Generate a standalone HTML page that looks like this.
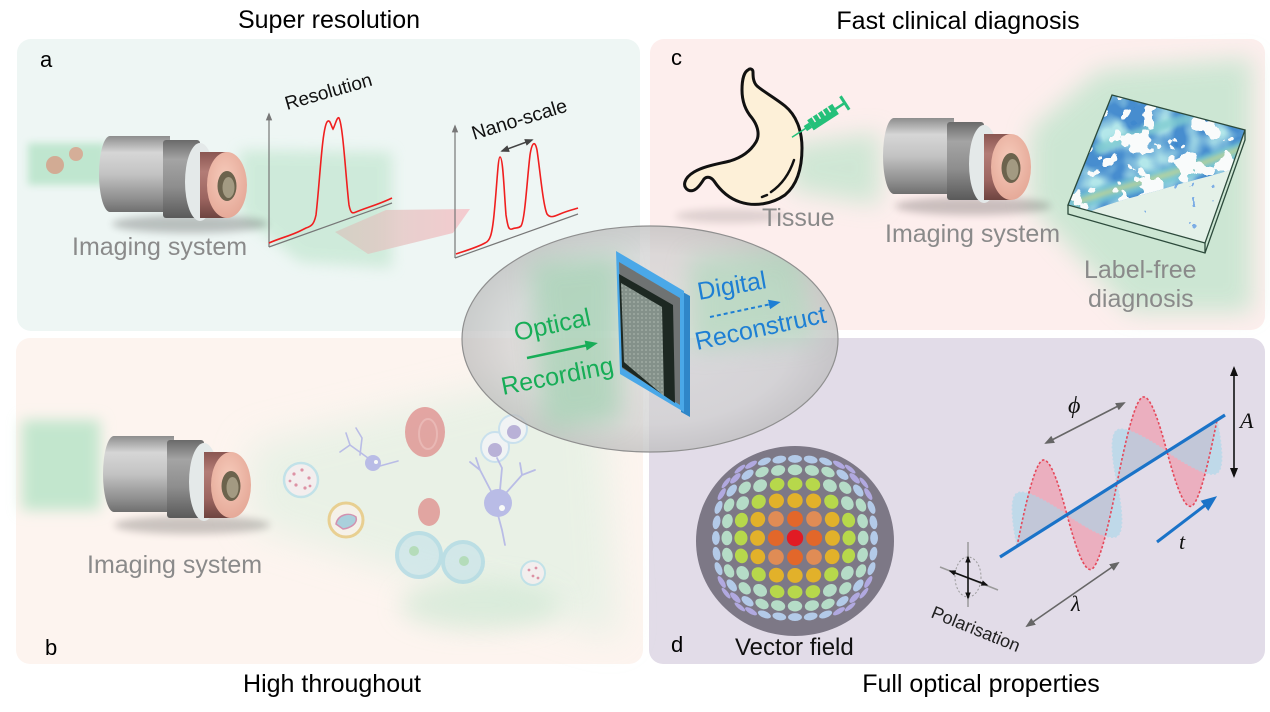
<!DOCTYPE html>
<html><head><meta charset="utf-8"><title>Diagram</title>
<style>
html,body{margin:0;padding:0;background:#fff;width:1270px;height:712px;overflow:hidden}
svg{display:block}
</style></head><body>
<svg id="root" width="1270" height="712" viewBox="0 0 1270 712" xmlns="http://www.w3.org/2000/svg" font-family="'Liberation Sans', Arial, sans-serif">
<defs>
<filter id="b2" x="-50%" y="-50%" width="200%" height="200%"><feGaussianBlur stdDeviation="2"/></filter>
<filter id="b4" x="-50%" y="-50%" width="200%" height="200%"><feGaussianBlur stdDeviation="4"/></filter>
<filter id="b7" x="-50%" y="-50%" width="200%" height="200%"><feGaussianBlur stdDeviation="7"/></filter>
<filter id="b12" x="-50%" y="-50%" width="200%" height="200%"><feGaussianBlur stdDeviation="12"/></filter>
<filter id="b18" x="-50%" y="-50%" width="200%" height="200%"><feGaussianBlur stdDeviation="18"/></filter>
<filter id="fHoles" filterUnits="userSpaceOnUse" x="1060" y="88" width="195" height="175">
<feTurbulence type="fractalNoise" baseFrequency="0.045" numOctaves="3" seed="7" result="n"/>
<feColorMatrix in="n" type="matrix" values="0 0 0 0 0.95  0 0 0 0 0.97  0 0 0 0 0.96  3 0 0 0 -1.2"/>
<feComponentTransfer><feFuncA type="discrete" tableValues="0 1"/></feComponentTransfer>
</filter>
<filter id="fCyan" filterUnits="userSpaceOnUse" x="1060" y="88" width="195" height="175">
<feTurbulence type="fractalNoise" baseFrequency="0.04" numOctaves="2" seed="3" result="n"/>
<feColorMatrix in="n" type="matrix" values="0 0 0 0 0.45  0 0 0 0 0.80  0 0 0 0 0.82  2.5 0 0 0 -0.9"/>
</filter>
<filter id="fSpecks" filterUnits="userSpaceOnUse" x="1060" y="88" width="195" height="175">
<feTurbulence type="fractalNoise" baseFrequency="0.1" numOctaves="2" seed="11" result="n"/>
<feColorMatrix in="n" type="matrix" values="0 0 0 0 0.2  0 0 0 0 0.42  0 0 0 0 0.78  8 0 0 0 -5.6"/>
<feComponentTransfer><feFuncA type="discrete" tableValues="0 1"/></feComponentTransfer>
</filter>
<linearGradient id="gBody" x1="0" y1="0" x2="0" y2="1">
<stop offset="0" stop-color="#8d8d8d"/><stop offset=".22" stop-color="#d6d6d6"/><stop offset=".5" stop-color="#c3c3c3"/><stop offset=".85" stop-color="#8b8b8b"/><stop offset="1" stop-color="#6f6f6f"/>
</linearGradient>
<linearGradient id="gCap" x1="0" y1="0" x2="0" y2="1">
<stop offset="0" stop-color="#4e4e4e"/><stop offset=".3" stop-color="#8f8f8f"/><stop offset=".6" stop-color="#6c6c6c"/><stop offset="1" stop-color="#404040"/>
</linearGradient>
<linearGradient id="gSec" x1="0" y1="0" x2="0" y2="1">
<stop offset="0" stop-color="#6a6a6a"/><stop offset=".25" stop-color="#a4a4a4"/><stop offset=".6" stop-color="#8e8e8e"/><stop offset="1" stop-color="#5a5a5a"/>
</linearGradient>
<linearGradient id="gPink" x1="0" y1="0" x2="0" y2="1">
<stop offset="0" stop-color="#8a5651"/><stop offset=".3" stop-color="#b37c76"/><stop offset=".7" stop-color="#9c6560"/><stop offset="1" stop-color="#6e4440"/>
</linearGradient>
<radialGradient id="gFace" cx=".45" cy=".4" r=".7">
<stop offset="0" stop-color="#f6cbbb"/><stop offset="1" stop-color="#e3a493"/>
</radialGradient>
<radialGradient id="gEll" cx=".5" cy=".5" r=".5">
<stop offset="0" stop-color="#d9d9d9"/><stop offset=".75" stop-color="#cfcfcf"/><stop offset="1" stop-color="#bcbcbc"/>
</radialGradient>
<linearGradient id="gArrow" x1="0" y1="0" x2="1" y2="0">
<stop offset="0" stop-color="#d7c6bd" stop-opacity=".7"/><stop offset="1" stop-color="#f5c6cb" stop-opacity=".9"/>
</linearGradient>
<pattern id="pScreen" width="4" height="4" patternUnits="userSpaceOnUse"><rect width="4" height="4" fill="#84918a"/><circle cx="2" cy="2" r="1" fill="#9eaaa2"/></pattern>
<marker id="mg" viewBox="0 0 10 8" refX="8" refY="4" markerWidth="10" markerHeight="8" markerUnits="userSpaceOnUse" orient="auto-start-reverse"><path d="M0,0 L10,4 L0,8 Z" fill="#666"/></marker>
<marker id="mk" viewBox="0 0 10 8" refX="8" refY="4" markerWidth="10" markerHeight="8" markerUnits="userSpaceOnUse" orient="auto-start-reverse"><path d="M0,0 L10,4 L0,8 Z" fill="#111"/></marker>
<marker id="mks" viewBox="0 0 10 8" refX="8" refY="4" markerWidth="7" markerHeight="6" markerUnits="userSpaceOnUse" orient="auto-start-reverse"><path d="M0,0 L10,4 L0,8 Z" fill="#111"/></marker>
<marker id="mb" viewBox="0 0 10 8" refX="6" refY="4" markerWidth="16" markerHeight="13" markerUnits="userSpaceOnUse" orient="auto"><path d="M0,0 L10,4 L0,8 Z" fill="#1a73c8"/></marker>
<marker id="mbs" viewBox="0 0 10 8" refX="6" refY="4" markerWidth="12" markerHeight="10" markerUnits="userSpaceOnUse" orient="auto"><path d="M0,0 L10,4 L0,8 Z" fill="#1e7fd4"/></marker>
<marker id="mgr" viewBox="0 0 10 8" refX="6" refY="4" markerWidth="13" markerHeight="10" markerUnits="userSpaceOnUse" orient="auto"><path d="M0,0 L10,4 L0,8 Z" fill="#17ad57"/></marker>
<marker id="md" viewBox="0 0 10 8" refX="8" refY="4" markerWidth="9" markerHeight="7" markerUnits="userSpaceOnUse" orient="auto-start-reverse"><path d="M0,0 L10,4 L0,8 Z" fill="#444"/></marker>
<marker id="max" viewBox="0 0 10 8" refX="8" refY="4" markerWidth="8" markerHeight="7" markerUnits="userSpaceOnUse" orient="auto"><path d="M0,0 L10,4 L0,8 Z" fill="#777"/></marker>
<clipPath id="cEll"><ellipse cx="650" cy="339" rx="188" ry="113"/></clipPath>
<clipPath id="cBox"><polygon points="1112,95 1245,130 1205,243 1068,205"/></clipPath>
<clipPath id="cBlue"><path d="M1112,95 L1245,130 L1243,165 C1220,175 1190,180 1160,190 C1130,198 1100,205 1072,220 L1068,205 Z"/></clipPath>
<g id="lens">
<path d="M-112,-40 H-106 V12 H-112 A8,26 0 0 1 -112,-40 Z" fill="url(#gCap)"/>
<path d="M-117,-49 H-57 V27 H-117 A11,38 0 0 1 -117,-49 Z" fill="url(#gBody)"/>
<rect x="-64" y="-45" width="37" height="78" rx="3" fill="url(#gSec)"/>
<ellipse cx="-27" cy="-3" rx="15" ry="39" fill="#e4e9e9"/>
<rect x="-27" y="-33" width="27" height="66" fill="url(#gPink)"/>
<ellipse cx="0" cy="0" rx="20" ry="33" fill="url(#gFace)"/>
<ellipse cx="0" cy="1" rx="9.5" ry="15" fill="#6c634d"/>
<ellipse cx="1.5" cy="2.5" rx="6" ry="10.5" fill="#a39a82"/>
</g>
</defs>

<!-- Titles -->
<text x="329" y="28" font-size="25" text-anchor="middle" fill="#000">Super resolution</text>
<text x="958" y="29" font-size="25" text-anchor="middle" fill="#000">Fast clinical diagnosis</text>
<text x="332" y="692" font-size="25" text-anchor="middle" fill="#000">High throughout</text>
<text x="981" y="692" font-size="25" text-anchor="middle" fill="#000">Full optical properties</text>

<!-- Panels -->
<rect x="17" y="39" width="623" height="292" rx="14" fill="#eef6f4"/>
<rect x="650" y="39" width="615" height="291" rx="14" fill="#fdeeed"/>
<rect x="16" y="338" width="627" height="326" rx="14" fill="#fdf4ef"/>
<rect x="649" y="338" width="616" height="326" rx="14" fill="#e2dce8"/>

<!-- ===== Panel a ===== -->
<rect x="28" y="143" width="78" height="42" fill="#bfe6cf" filter="url(#b4)"/>
<polygon points="240,150 392,152 392,268 300,262 240,215" fill="#c7e8d4" opacity=".8" filter="url(#b7)"/>
<circle cx="55" cy="165" r="9" fill="#d4a48d" opacity=".9"/>
<circle cx="76" cy="154" r="7" fill="#d7a791" opacity=".9"/>
<ellipse cx="190" cy="224" rx="78" ry="9" fill="#000" opacity=".22" filter="url(#b4)"/>
<use href="#lens" transform="translate(227,185)"/>
<text x="72" y="255" font-size="25" fill="#8a8a8a">Imaging system</text>

<!-- graph 1 -->
<line x1="269" y1="247" x2="269" y2="114" stroke="#777" stroke-width="1.2" marker-end="url(#max)"/>
<line x1="269" y1="247" x2="392" y2="203" stroke="#777" stroke-width="1.2"/>
<path d="M269,243 C280,238 290,236 300,231 L306,228 C312,226 314,224 316,215 C320,180 322,130 327,122 C330,118 331,126 333,129 C335,126 337,116 339,118 C343,125 346,180 349,205 C351,215 353,213 356,212 C365,208 380,204 392,198" fill="none" stroke="#f01f1f" stroke-width="1.6"/>
<text transform="translate(287,110) rotate(-16)" font-size="19" fill="#111">Resolution</text>

<!-- pink arrow -->
<polygon points="335,232 386,210 470,209 453,233 368,254" fill="url(#gArrow)"/>

<!-- graph 2 -->
<line x1="455" y1="258" x2="455" y2="126" stroke="#777" stroke-width="1.2" marker-end="url(#max)"/>
<line x1="455" y1="258" x2="578" y2="214" stroke="#777" stroke-width="1.2"/>
<path d="M456,254 C468,250 478,247 485,243 C490,241 492,235 494,215 C497,185 498,157 500,157 C503,157 504,190 506,215 C508,228 509,230 512,229 C516,227 518,229 521,226 C525,220 527,180 530,155 C532,142 535,140 537,150 C540,170 543,205 547,214 C550,218 553,217 560,214 C567,211 572,210 578,208" fill="none" stroke="#f01f1f" stroke-width="1.6"/>
<line x1="502" y1="151" x2="532" y2="140" stroke="#444" stroke-width="1.5" marker-start="url(#md)" marker-end="url(#md)"/>
<text transform="translate(474,140) rotate(-17)" font-size="19.5" fill="#111">Nano-scale</text>
<text x="40" y="67" font-size="22" fill="#000">a</text>

<!-- ===== Panel c ===== -->
<polygon points="790,145 880,132 880,205 790,190" fill="#c4e5cf" opacity=".8" filter="url(#b12)"/>
<polygon points="1030,130 1100,70 1252,58 1252,312 1130,312 1030,205" fill="#c4e5cf" opacity=".85" filter="url(#b12)"/>
<ellipse cx="730" cy="216" rx="55" ry="7" fill="#000" opacity=".12" filter="url(#b4)"/>
<path d="M748,70 C744,72 742,80 742,90 C742,100 745,110 752,118 C758,126 760,135 756,142 C750,152 740,158 730,161 C718,164 704,166 694,172 C684,178 682,186 688,190 C694,193 699,187 704,179 C707,176 711,177 714,181 C720,190 728,198 740,202 C755,207 772,204 785,195 C797,185 802,168 802,148 C802,130 796,115 785,106 C775,98 764,92 757,86 C753,82 753,76 753,72 C753,69 750,68 748,70 Z" fill="#fdf0d8" stroke="#111" stroke-width="3" stroke-linejoin="round"/>
<path d="M771,192 Q787,181 794,160" fill="none" stroke="#111" stroke-width="2.5" stroke-linecap="round"/>
<path d="M762,197 L767,195" fill="none" stroke="#111" stroke-width="2.5" stroke-linecap="round"/>
<g transform="translate(797,134) rotate(-33)" fill="#25c07a" stroke="#25c07a">
<line x1="-6" y1="0" x2="12" y2="0" stroke-width="1.5"/>
<rect x="10" y="-3" width="6" height="6" stroke="none"/>
<rect x="16" y="-6" width="30" height="12" stroke="none"/>
<line x1="22" y1="-6" x2="22" y2="0" stroke="#fdeeed" stroke-width="1.5"/>
<line x1="28" y1="-6" x2="28" y2="0" stroke="#fdeeed" stroke-width="1.5"/>
<line x1="34" y1="-6" x2="34" y2="0" stroke="#fdeeed" stroke-width="1.5"/>
<line x1="40" y1="-6" x2="40" y2="0" stroke="#fdeeed" stroke-width="1.5"/>
<line x1="46" y1="0" x2="57" y2="0" stroke-width="2.5"/>
<line x1="57" y1="-8" x2="57" y2="8" stroke-width="3"/>
</g>
<text x="762" y="226" font-size="25" fill="#8a8a8a">Tissue</text>
<ellipse cx="973" cy="206" rx="78" ry="9" fill="#000" opacity=".2" filter="url(#b4)"/>
<use href="#lens" transform="translate(1011,167)"/>
<text x="885" y="242" font-size="25" fill="#8a8a8a">Imaging system</text>

<!-- heatmap box -->
<g clip-path="url(#cBox)">
<polygon points="1112,95 1245,130 1205,243 1068,205" fill="#e4f1e8"/>
<rect x="1060" y="88" width="195" height="175" filter="url(#fSpecks)"/>
<path d="M1112,95 L1245,130 L1243,165 C1220,175 1190,180 1160,190 C1130,198 1100,205 1072,220 L1068,205 Z" fill="#3a84cc" opacity=".92"/>
<g clip-path="url(#cBlue)">
<rect x="1060" y="88" width="195" height="175" filter="url(#fCyan)"/>
<path d="M1070,205 C1110,190 1160,180 1200,165 C1220,158 1235,152 1245,148" fill="none" stroke="#78c8d4" stroke-width="16" opacity=".85" filter="url(#b2)"/>
<path d="M1075,203 C1110,190 1160,178 1200,164 C1220,157 1235,151 1245,147" fill="none" stroke="#c7d68e" stroke-width="5" opacity=".8" filter="url(#b2)"/>
<path d="M1095,150 C1120,140 1150,128 1190,118" fill="none" stroke="#7fcbd0" stroke-width="10" opacity=".8" filter="url(#b2)"/>
<rect x="1060" y="88" width="195" height="175" filter="url(#fHoles)"/>
</g>
</g>
<g fill="none" stroke="#2c4a3b" stroke-width="1.3">
<polygon points="1112,95 1245,130 1205,243 1068,205"/>
<polyline points="1068,205 1068,214 1205,253 1245,140 1245,130"/>
<line x1="1205" y1="243" x2="1205" y2="253"/>
</g>
<text x="1084" y="278" font-size="25" fill="#8a8a8a">Label-free</text>
<text x="1088" y="307" font-size="25" fill="#8a8a8a">diagnosis</text>
<text x="671" y="65" font-size="22" fill="#000">c</text>

<!-- ===== Panel b ===== -->
<rect x="22" y="420" width="78" height="90" fill="#c2e6cd" filter="url(#b7)"/>
<polygon points="250,445 600,360 620,640 250,525" fill="#d9efdf" opacity=".55" filter="url(#b18)"/>
<ellipse cx="480" cy="605" rx="80" ry="25" fill="#cfe8d4" opacity=".7" filter="url(#b12)"/>
<ellipse cx="192" cy="525" rx="78" ry="9" fill="#000" opacity=".2" filter="url(#b4)"/>
<use href="#lens" transform="translate(231,485)"/>
<text x="87" y="573" font-size="25" fill="#8a8a8a">Imaging system</text>
<g opacity=".7">
<circle cx="301" cy="480" r="17" fill="#f8eef2" stroke="#b2dcea" stroke-width="2.5"/>
<g fill="#d86a8a"><circle cx="294" cy="474" r="1.6"/><circle cx="302" cy="470" r="1.6"/><circle cx="309" cy="478" r="1.6"/><circle cx="296" cy="485" r="1.6"/><circle cx="305" cy="488" r="1.6"/><circle cx="290" cy="481" r="1.4"/><circle cx="310" cy="486" r="1.4"/></g>
<g stroke="#a5a7e6" stroke-width="1.6" fill="none" stroke-linecap="round"><path d="M368,458 L350,445 L340,452 M350,445 L346,433 M360,455 L362,438 L356,428 M380,466 L398,461"/></g>
<circle cx="373" cy="463" r="8" fill="#a5a7e6"/><circle cx="376" cy="462" r="2" fill="#fff"/>
<ellipse cx="425" cy="432" rx="20" ry="25" fill="#de8585"/>
<ellipse cx="428" cy="434" rx="9" ry="15" fill="none" stroke="#e9a0a0" stroke-width="2"/>
<ellipse cx="495" cy="447" rx="14" ry="15" fill="#f4f4fa" stroke="#bcdaf0" stroke-width="2"/>
<ellipse cx="513" cy="429" rx="14" ry="14" fill="#f4f4fa" stroke="#bcdaf0" stroke-width="2"/>
<circle cx="495" cy="450" r="7" fill="#a596d2"/><circle cx="514" cy="432" r="7" fill="#a596d2"/>
<circle cx="346" cy="520" r="17" fill="#fbf2ea" stroke="#e8c26e" stroke-width="3"/>
<path d="M336,524 C338,514 350,512 356,517 C358,524 350,528 343,529 Z" fill="#8fc3d8" stroke="#c86a9a" stroke-width="1.5"/>
<ellipse cx="429" cy="512" rx="11" ry="14" fill="#de8585"/>
<g stroke="#a5a7e6" stroke-width="1.8" fill="none" stroke-linecap="round"><path d="M492,493 L480,470 L470,462 M480,470 L476,458 M500,490 L502,468 L497,458 M506,493 L522,475 L535,470 M522,475 L520,463 M498,515 L502,530 L505,545"/></g>
<circle cx="498" cy="503" r="14" fill="#a5a7e6"/><circle cx="502" cy="508" r="3" fill="#fff"/>
<circle cx="419" cy="555" r="22" fill="#c9e4ea" stroke="#a8d6e4" stroke-width="4"/>
<circle cx="463" cy="562" r="20" fill="#c9e4ea" stroke="#a8d6e4" stroke-width="4"/>
<circle cx="414" cy="551" r="5" fill="#9fd4a8"/><circle cx="464" cy="561" r="5" fill="#9fd4a8"/>
<circle cx="533" cy="573" r="12" fill="#f8eef2" stroke="#b2dcea" stroke-width="2"/>
<g fill="#d86a8a"><circle cx="529" cy="570" r="1.4"/><circle cx="536" cy="568" r="1.4"/><circle cx="533" cy="576" r="1.4"/><circle cx="538" cy="578" r="1.4"/></g>
</g>
<text x="45" y="655" font-size="22" fill="#000">b</text>

<!-- ===== Panel d ===== -->
<ellipse cx="795" cy="541" rx="99" ry="95" fill="#7d7886"/>
<g id="vf"></g>
<text x="735" y="655" font-size="24" fill="#111">Vector field</text>
<text x="671" y="652" font-size="22" fill="#000">d</text>

<!-- wave -->
<path transform="matrix(1,-0.631,0,1,1017,546.3)" d="M0,0 C8.15,-35.9 17.36,-70 25,-70 C32.64,-70 41.85,-35.9 50,0 C58.15,35.9 67.36,70 75,70 C82.64,70 91.85,35.9 100,0 C108.15,-35.9 117.36,-70 125,-70 C132.64,-70 141.85,-35.9 150,0 C158.15,35.9 167.36,70 175,70 C182.64,70 191.85,35.9 200,0 Z" fill="#eea0b2" opacity=".75"/>
<path transform="matrix(1,-0.631,0.357,0.532,1017,546.3)" d="M0,0 C8.15,-35.9 17.36,-70 25,-70 C32.64,-70 41.85,-35.9 50,0 C58.15,35.9 67.36,70 75,70 C82.64,70 91.85,35.9 100,0 C108.15,-35.9 117.36,-70 125,-70 C132.64,-70 141.85,-35.9 150,0 C158.15,35.9 167.36,70 175,70 C182.64,70 191.85,35.9 200,0 Z" fill="#a8d8ea" opacity=".6" stroke="#a8d8ea" stroke-width="1.5" stroke-dasharray="2 2" vector-effect="non-scaling-stroke"/>
<path transform="matrix(1,-0.631,0,1,1017,546.3)" d="M0,0 C8.15,-35.9 17.36,-70 25,-70 C32.64,-70 41.85,-35.9 50,0 C58.15,35.9 67.36,70 75,70 C82.64,70 91.85,35.9 100,0 C108.15,-35.9 117.36,-70 125,-70 C132.64,-70 141.85,-35.9 150,0 C158.15,35.9 167.36,70 175,70 C182.64,70 191.85,35.9 200,0" fill="none" stroke="#e5485a" stroke-width="1.6" stroke-dasharray="2.5 2" vector-effect="non-scaling-stroke"/>
<line x1="1000" y1="557" x2="1225" y2="415" stroke="#1a73c8" stroke-width="3.2"/>
<line x1="1046" y1="443" x2="1124" y2="403" stroke="#666" stroke-width="1.6" marker-start="url(#mg)" marker-end="url(#mg)"/>
<text x="1068" y="413" font-size="24" font-family="'Liberation Serif', serif" font-style="italic" fill="#111">ϕ</text>
<line x1="1234" y1="368" x2="1234" y2="476" stroke="#111" stroke-width="1.6" marker-start="url(#mk)" marker-end="url(#mk)"/>
<text x="1240" y="428" font-size="22" font-family="'Liberation Serif', serif" font-style="italic" fill="#111">A</text>
<line x1="1027" y1="626" x2="1118" y2="563" stroke="#666" stroke-width="1.6" marker-start="url(#mg)" marker-end="url(#mg)"/>
<text x="1071" y="611" font-size="22" font-family="'Liberation Serif', serif" font-style="italic" fill="#111">λ</text>
<line x1="1157" y1="542" x2="1212" y2="500" stroke="#1a73c8" stroke-width="3" marker-end="url(#mb)"/>
<text x="1179" y="549" font-size="22" font-family="'Liberation Serif', serif" font-style="italic" fill="#111">t</text>
<!-- polarisation symbol -->
<line x1="968" y1="542" x2="968" y2="607" stroke="#9a9a9a" stroke-width="1.5"/>
<line x1="940" y1="567" x2="998" y2="590" stroke="#9a9a9a" stroke-width="1.5"/>
<ellipse cx="968" cy="577" rx="13" ry="20" fill="none" stroke="#9a9a9a" stroke-width="1" stroke-dasharray="2 2"/>
<line x1="968" y1="557" x2="968" y2="598" stroke="#111" stroke-width="1.5" marker-start="url(#mks)" marker-end="url(#mks)"/>
<line x1="950" y1="571" x2="987" y2="585" stroke="#111" stroke-width="1.5" marker-start="url(#mks)" marker-end="url(#mks)"/>
<text transform="translate(930,617) rotate(22)" font-size="18" fill="#222">Polarisation</text>

<!-- ===== Center ellipse ===== -->
<ellipse cx="650" cy="339" rx="188" ry="113" fill="url(#gEll)" opacity=".72"/>
<g clip-path="url(#cEll)">
<polygon points="530,262 620,255 620,420 545,430" fill="#9fd2b0" opacity=".65" filter="url(#b12)"/>
<polygon points="690,258 800,248 815,340 690,350" fill="#a9d9b9" opacity=".6" filter="url(#b12)"/>
</g>
<ellipse cx="650" cy="339" rx="188" ry="113" fill="none" stroke="#8f8f8f" stroke-width="1.2"/>
<!-- chip -->
<polygon points="681,291 690,296 690,417 681,412" fill="#2f86c8"/>
<polygon points="616,251 684,291 684,412 620,374" fill="#4aa8e8"/>
<polygon points="619,262 680,298 680,405 622,368" fill="#6f7373"/>
<polygon points="619,274 673,305 675,403 622,367" fill="#1d2822"/>
<polygon points="621,283 662,307 664,396 624,362" fill="url(#pScreen)"/>
<!-- center labels -->
<text transform="translate(516,341) rotate(-12)" font-size="25" fill="#17ad57">Optical</text>
<text transform="translate(503,395) rotate(-11)" font-size="25" fill="#17ad57">Recording</text>
<line x1="527" y1="358" x2="593" y2="344" stroke="#17ad57" stroke-width="2.5" marker-end="url(#mgr)"/>
<text transform="translate(699,300) rotate(-10)" font-size="25" fill="#1e7fd4">Digital</text>
<text transform="translate(697,350) rotate(-12)" font-size="25" fill="#1e7fd4">Reconstruct</text>
<line x1="710" y1="317" x2="776" y2="303" stroke="#1e7fd4" stroke-width="2" stroke-dasharray="4 3" marker-end="url(#mbs)"/>
</svg>
<script>
(function(){
var ns="http://www.w3.org/2000/svg",g=document.getElementById("vf");
var cx=795,cy=538,R=90,a=12.3*Math.PI/180;
for(var i=-5;i<=5;i++)for(var j=-5;j<=5;j++){
 var rho=Math.sqrt(i*i+j*j),th=rho*a;
 if(rho>6.5)continue;
 var r=R*Math.sin(th),ang=Math.atan2(j,i);
 var x=cx+r*Math.cos(ang),y=cy+r*Math.sin(ang);
 var rad=Math.max(2.1,8.2*Math.cos(th)),tn=8.2-0.25*rho;
 var c;
 if(rho<0.5)c="#e11b24";else if(rho<1.2)c="#e2672a";else if(rho<1.6)c="#e08c55";else if(rho<2.5)c="#e2b12a";else if(rho<3.4)c="#b7d84b";else if(rho<4.5)c="#b5dcc7";else if(rho<5.6)c="#b3cae8";else c="#b1a9e0";
 var e=document.createElementNS(ns,"ellipse");
 e.setAttribute("cx","0");e.setAttribute("cy","0");
 e.setAttribute("rx",rad.toFixed(2));e.setAttribute("ry",tn.toFixed(2));
 e.setAttribute("fill",c);
 e.setAttribute("transform","translate("+x.toFixed(2)+","+y.toFixed(2)+") rotate("+(ang*180/Math.PI).toFixed(2)+")");
 g.appendChild(e);
}
})();
</script>
</body></html>
